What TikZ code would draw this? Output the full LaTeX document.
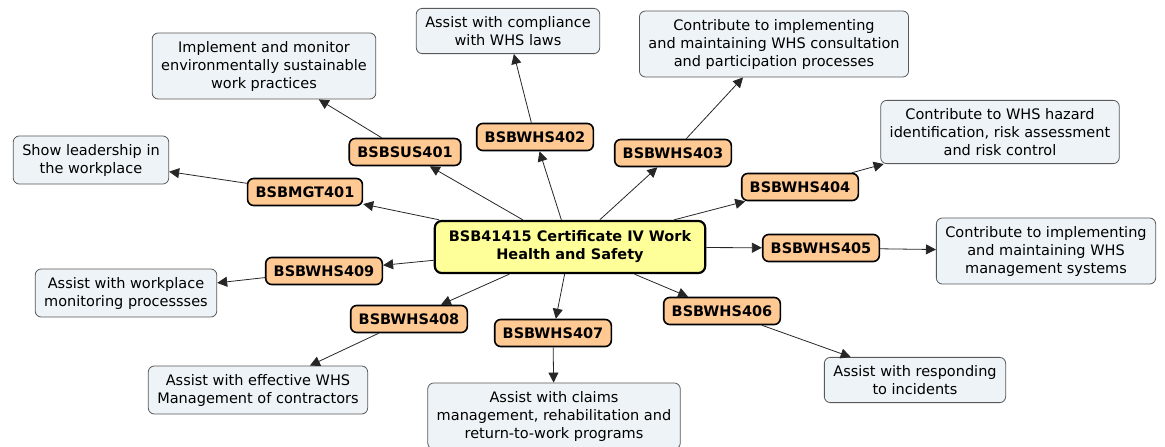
\documentclass[tikz,border=0pt]{standalone}
\usepackage{fontspec}
\setmainfont{DejaVu Sans}
\usetikzlibrary{arrows.meta}
\definecolor{unitorange}{HTML}{FFC994}
\definecolor{outcomeblue}{HTML}{EDF3F6}
\definecolor{topicyellow}{HTML}{FFFF99}
\newcommand{\mapfont}{\fontsize{14.5}{18}\selectfont}
\tikzset{
    topic-box/.style = {draw=black, fill=topicyellow, line width=2.2pt, rounded corners=7pt, align=center, font=\mapfont\bfseries, inner xsep=14pt, inner ysep=10pt},
    unit-box/.style = {draw=black, fill=unitorange, line width=1.6pt, rounded corners=6pt, font=\mapfont\bfseries, inner xsep=8pt, inner ysep=8pt},
    outcome-box/.style = {draw=black!65, fill=outcomeblue, line width=0.8pt, rounded corners=6pt, align=center, font=\mapfont, inner xsep=9pt, inner ysep=8pt},
    link/.style = {draw=black!85, line width=0.8pt, -{Triangle[length=10pt,width=10pt]}},
}

\begin{document}
\begin{tikzpicture}[x=1pt, y=-1pt]
\useasboundingbox (0,0) rectangle (1165,447);

% centre topic
\node [topic-box] (topic) at (570,247) {BSB41415 Certificate IV Work\\Health and Safety};

% units
\node [unit-box] (mgt401) at (305,192) {BSBMGT401};
\node [unit-box] (sus401) at (405,152) {BSBSUS401};
\node [unit-box] (whs402) at (535,137) {BSBWHS402};
\node [unit-box] (whs403) at (673,153) {BSBWHS403};
\node [unit-box] (whs404) at (800,187) {BSBWHS404};
\node [unit-box] (whs405) at (821,248) {BSBWHS405};
\node [unit-box] (whs406) at (722,311) {BSBWHS406};
\node [unit-box] (whs407) at (553,333) {BSBWHS407};
\node [unit-box] (whs408) at (409,319) {BSBWHS408};
\node [unit-box] (whs409) at (324,271) {BSBWHS409};

% outcomes
\node [outcome-box] (lead) at (91,160) {Show leadership in\\the workplace};
\node [outcome-box] (sustain) at (264,66) {Implement and monitor\\environmentally sustainable\\work practices};
\node [outcome-box] (laws) at (508,31) {Assist with compliance\\with WHS laws};
\node [outcome-box] (consult) at (774,44) {Contribute to implementing\\and maintaining WHS consultation\\and participation processes};
\node [outcome-box] (hazard) at (1000,132) {Contribute to WHS hazard\\identification, risk assessment\\and risk control};
\node [outcome-box] (system) at (1046,251) {Contribute to implementing\\and maintaining WHS\\management systems};
\node [outcome-box] (incident) at (915,380) {Assist with responding\\to incidents};
\node [outcome-box] (claims) at (554,416) {Assist with claims\\management, rehabilitation and\\return-to-work programs};
\node [outcome-box] (contract) at (258,390) {Assist with effective WHS\\Management of contractors};
\node [outcome-box] (monitor) at (126,293) {Assist with workplace\\monitoring processses};

% links
\foreach \unit/\outcome in {mgt401/lead, sus401/sustain, whs402/laws, whs403/consult, whs404/hazard,
    whs405/system, whs406/incident, whs407/claims, whs408/contract, whs409/monitor} {
    \draw [link] (topic) -- (\unit);
    \draw [link] (\unit) -- (\outcome);
}
\end{tikzpicture}
\end{document}
